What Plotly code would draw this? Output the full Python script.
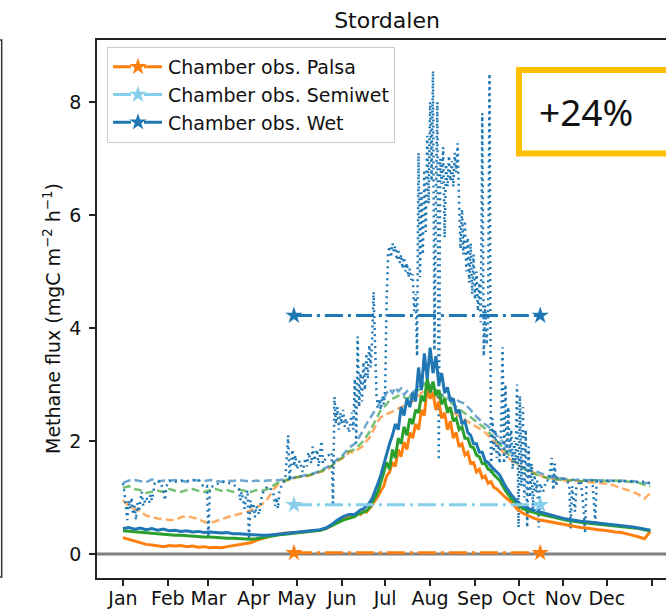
import plotly.graph_objects as go

# ---- time axis (day of year) ----
DAYS = list(range(0, 160, 4)) + list(range(160, 260, 2)) + list(range(260, 365, 4))

MONTH_TICKS = [0, 31, 59, 90, 120, 151, 181, 212, 243, 273, 304, 334, 365]
MONTH_LABELS = ["Jan", "Feb", "Mar", "Apr", "May", "Jun", "Jul", "Aug", "Sep",
                "Oct", "Nov", "Dec", ""]

# ---- modelled fluxes, solid lines ----
PALSA_SOLID = [0.29, 0.26, 0.24, 0.21, 0.17, 0.16, 0.14, 0.13, 0.15, 0.14,
               0.15, 0.13, 0.14, 0.12, 0.13, 0.11, 0.12, 0.11, 0.13, 0.15,
               0.16, 0.18, 0.2, 0.24, 0.27, 0.31, 0.33, 0.35, 0.37, 0.37,
               0.38, 0.39, 0.4, 0.41, 0.42, 0.45, 0.5, 0.57, 0.62, 0.65,
               0.68, 0.72, 0.70, 0.76, 0.74, 0.80, 0.86, 0.95, 1.02, 1.12,
               1.2, 1.38, 1.45, 1.62, 1.55, 1.85, 1.72, 1.98, 1.85, 2.15,
               2.05, 2.3, 2.2, 2.55, 2.45, 2.95, 2.75, 2.85, 2.55, 2.7,
               2.4, 2.5, 2.2, 2.35, 2.05, 2.15, 1.9, 1.95, 1.75, 1.8,
               1.6, 1.62, 1.45, 1.5, 1.35, 1.38, 1.25, 1.28, 1.18, 1.15,
               1.1, 1.0, 0.92, 0.8, 0.72, 0.67, 0.63, 0.6, 0.58, 0.57,
               0.54, 0.52, 0.5, 0.49, 0.47, 0.46, 0.44, 0.43, 0.42, 0.4,
               0.39, 0.38, 0.36, 0.33, 0.3, 0.27, 0.4]
SEMIWET_SOLID = [0.41, 0.4, 0.39, 0.38, 0.37, 0.36, 0.35, 0.34, 0.34, 0.33,
                 0.33, 0.32, 0.31, 0.31, 0.3, 0.3, 0.29, 0.29, 0.28, 0.28,
                 0.27, 0.27, 0.26, 0.27, 0.29, 0.31, 0.33, 0.34, 0.35, 0.36,
                 0.37, 0.38, 0.39, 0.4, 0.42, 0.45, 0.5, 0.56, 0.6, 0.63,
                 0.66, 0.7, 0.72, 0.75, 0.76, 0.82, 0.9, 1.0, 1.1, 1.28,
                 1.45, 1.62, 1.5, 1.85, 1.7, 2.05, 1.95, 2.25, 2.1, 2.4,
                 2.3, 2.55, 2.5, 2.8, 2.7, 3.1, 2.85, 3.05, 2.8, 2.9,
                 2.65, 2.75, 2.5, 2.6, 2.35, 2.4, 2.2, 2.25, 2.05, 2.05,
                 1.9, 1.88, 1.75, 1.72, 1.6, 1.6, 1.5, 1.48, 1.4, 1.35,
                 1.3, 1.12, 0.98, 0.88, 0.8, 0.76, 0.73, 0.7, 0.68, 0.66,
                 0.63, 0.61, 0.59, 0.57, 0.56, 0.55, 0.54, 0.53, 0.52, 0.51,
                 0.5, 0.49, 0.48, 0.47, 0.45, 0.43, 0.41]
WET_SOLID = [0.45, 0.47, 0.44, 0.46, 0.43, 0.45, 0.42, 0.44, 0.41, 0.42,
             0.4, 0.41, 0.39, 0.4, 0.38, 0.39, 0.38, 0.37, 0.38, 0.36,
             0.36, 0.35, 0.34, 0.33, 0.33, 0.33, 0.34, 0.35, 0.36, 0.37,
             0.38, 0.39, 0.4, 0.42, 0.43, 0.46, 0.52, 0.6, 0.66, 0.7,
             0.7, 0.74, 0.78, 0.8, 0.85, 0.9, 0.98, 1.1, 1.25, 1.4,
             1.6, 1.75, 1.95, 2.1, 2.3, 2.2, 2.6, 2.45, 2.75, 2.6,
             2.85, 2.7, 3.3, 2.9, 3.55, 3.1, 3.65, 3.2, 3.5, 3.0,
             3.2, 2.85, 2.95, 2.7, 2.75, 2.5, 2.55, 2.3, 2.35, 2.15,
             2.1, 1.95, 1.95, 1.8, 1.8, 1.65, 1.62, 1.55, 1.5, 1.45,
             1.4, 1.2, 1.05, 0.93, 0.85, 0.8, 0.77, 0.74, 0.71, 0.69,
             0.66, 0.63, 0.61, 0.59, 0.58, 0.57, 0.56, 0.55, 0.54, 0.53,
             0.52, 0.5, 0.49, 0.48, 0.46, 0.44, 0.42]

# ---- modelled fluxes, dashed lines ----
PALSA_DASHED = [0.95, 0.85, 0.8, 0.75, 0.68, 0.65, 0.63, 0.62, 0.6, 0.6,
                0.65, 0.67, 0.64, 0.62, 0.57, 0.55, 0.58, 0.62, 0.65, 0.68,
                0.7, 0.73, 0.77, 0.82, 0.88, 0.98, 1.15, 1.25, 1.3, 1.32,
                1.36, 1.37, 1.38, 1.42, 1.45, 1.48, 1.55, 1.65, 1.7, 1.8,
                1.8, 1.85, 1.88, 1.92, 2.0, 2.05, 2.15, 2.25, 2.35, 2.42,
                2.45, 2.48, 2.5, 2.52, 2.55, 2.58, 2.6, 2.62, 2.65, 2.67,
                2.7, 2.75, 2.8, 2.85, 2.9, 2.92, 2.9, 2.85, 2.8, 2.75,
                2.7, 2.65, 2.6, 2.55, 2.5, 2.47, 2.44, 2.4, 2.37, 2.35,
                2.32, 2.28, 2.25, 2.22, 2.18, 2.15, 2.1, 2.05, 2.0, 1.95,
                1.88, 1.75, 1.66, 1.58, 1.53, 1.48, 1.43, 1.39, 1.35, 1.33,
                1.31, 1.3, 1.3, 1.29, 1.28, 1.28, 1.27, 1.26, 1.25, 1.24,
                1.2, 1.17, 1.14, 1.1, 1.05, 0.98, 1.08]
SEMIWET_DASHED = [1.17, 1.2, 1.15, 1.13, 1.08, 1.1, 1.12, 1.1, 1.15, 1.12,
                  1.1, 1.13, 1.15, 1.12, 1.1, 1.13, 1.15, 1.12, 1.13, 1.1,
                  1.14, 1.12, 1.1, 1.13, 1.12, 1.15, 1.22, 1.28, 1.3, 1.33,
                  1.36, 1.37, 1.39, 1.42, 1.46, 1.5, 1.56, 1.65, 1.72, 1.82,
                  1.85, 1.9, 1.95, 2.0, 2.08, 2.15, 2.25, 2.35, 2.45, 2.55,
                  2.6, 2.65, 2.72, 2.75, 2.78, 2.8, 2.8, 2.78, 2.75, 2.78,
                  2.82, 2.85, 2.9, 2.95, 3.0, 3.02, 3.0, 2.95, 2.9, 2.85,
                  2.8, 2.76, 2.72, 2.68, 2.64, 2.6, 2.56, 2.52, 2.48, 2.45,
                  2.42, 2.38, 2.35, 2.3, 2.26, 2.22, 2.17, 2.12, 2.06, 2.0,
                  1.95, 1.82, 1.7, 1.6, 1.52, 1.46, 1.42, 1.38, 1.35, 1.33,
                  1.32, 1.31, 1.3, 1.31, 1.29, 1.3, 1.31, 1.29, 1.3, 1.28,
                  1.3, 1.29, 1.28, 1.27, 1.26, 1.22, 1.2]
WET_DASHED = [1.26, 1.3, 1.31, 1.29, 1.27, 1.32, 1.28, 1.3, 1.29, 1.31,
              1.3, 1.28, 1.31, 1.3, 1.29, 1.31, 1.3, 1.28, 1.3, 1.29,
              1.31, 1.3, 1.28, 1.3, 1.29, 1.3, 1.3, 1.31, 1.32, 1.34,
              1.36, 1.38, 1.4, 1.43, 1.47, 1.52, 1.58, 1.68, 1.76, 1.88,
              1.95, 2.02, 2.1, 2.2, 2.3, 2.38, 2.45, 2.55, 2.62, 2.7,
              2.75, 2.85, 2.92, 2.85, 2.95, 2.88, 2.93, 2.82, 2.88, 2.8,
              2.86, 2.9, 2.95, 3.0, 3.05, 3.0, 2.98, 2.92, 2.88, 2.85,
              2.82, 2.8, 2.78, 2.78, 2.72, 2.74, 2.7, 2.68, 2.66, 2.6,
              2.55, 2.48, 2.42, 2.38, 2.33, 2.3, 2.26, 2.22, 2.15, 2.1,
              2.05, 1.92, 1.8, 1.7, 1.62, 1.56, 1.48, 1.43, 1.39, 1.36,
              1.35, 1.34, 1.32, 1.31, 1.33, 1.3, 1.32, 1.3, 1.31, 1.3,
              1.29, 1.3, 1.28, 1.29, 1.27, 1.26, 1.25]

# ---- daily wet-site series (dotted), (day, flux) ----
WET_DAILY = [
    (0, 1.25), (1, 1.1), (2, 0.85), (3, 0.6), (4, 0.95), (5, 0.8), (6, 1.0),
    (7, 0.7), (8, 0.85), (9, 0.6), (10, 0.9), (11, 0.75), (12, 0.95), (13, 1.1),
    (14, 0.85), (16, 1.0), (18, 0.9), (19, 1.05), (20, 0.95), (22, 1.25),
    (24, 1.3), (26, 1.28), (28, 1.1), (29, 0.95), (30, 1.2), (32, 1.3),
    (36, 1.28), (40, 1.3), (44, 1.29), (48, 1.3), (52, 1.32), (54, 1.25),
    (56, 1.18), (58, 1.2), (59, 0.3), (60, 1.15), (62, 1.2), (66, 1.25),
    (70, 1.28), (74, 1.25), (78, 1.2), (80, 1.15), (81, 0.95), (82, 1.1),
    (84, 0.8), (85, 1.05), (86, 1.13), (87, 0.25), (88, 0.95), (89, 0.75),
    (90, 0.9), (91, 0.65), (92, 0.85), (94, 0.7), (96, 1.05), (98, 1.15),
    (100, 1.2), (102, 1.15), (104, 1.05), (105, 0.85), (106, 1.0), (107, 0.8),
    (108, 1.1), (110, 1.25), (112, 1.3), (114, 2.1), (115, 1.3), (116, 1.6),
    (117, 1.85), (118, 1.55), (119, 1.75), (120, 1.5), (122, 1.65), (124, 1.45),
    (126, 1.7), (127, 1.55), (128, 1.8), (130, 1.6), (131, 1.9), (132, 1.65),
    (134, 1.85), (135, 1.55), (137, 2.0), (138, 1.6), (140, 1.7), (142, 1.75),
    (144, 1.8), (145, 0.85), (146, 2.78), (147, 2.3), (148, 2.6), (149, 2.2),
    (150, 2.5), (151, 2.3), (152, 2.55), (153, 2.25), (154, 2.4), (156, 2.15),
    (158, 2.5), (159, 2.2), (160, 3.1), (161, 1.96), (162, 3.85), (163, 2.6),
    (164, 3.2), (165, 2.7), (166, 3.4), (167, 2.9), (168, 3.55), (169, 3.1),
    (170, 3.7), (171, 3.3), (172, 3.8), (173, 4.64), (174, 3.6), (175, 2.8),
    (176, 2.6), (177, 2.75), (178, 2.55), (179, 2.8), (180, 2.65), (181, 2.9),
    (182, 4.5), (183, 5.3), (184, 5.45), (185, 5.25), (186, 5.5), (187, 5.35),
    (188, 5.45), (189, 5.2), (190, 5.4), (191, 5.15), (192, 5.3), (193, 5.05),
    (194, 5.25), (195, 5.0), (196, 5.15), (197, 4.9), (198, 5.05), (199, 4.85),
    (200, 4.95), (201, 4.3), (202, 4.6), (203, 3.5), (204, 7.1), (205, 4.9),
    (206, 6.4), (207, 5.3), (208, 6.8), (209, 5.7), (210, 7.4), (211, 6.2),
    (212, 8.0), (213, 6.6), (214, 8.55), (215, 3.6), (216, 6.3), (217, 8.0),
    (218, 1.66), (219, 7.0), (220, 6.55), (221, 7.2), (222, 5.6), (223, 6.9),
    (224, 6.5), (225, 7.05), (226, 6.6), (227, 6.95), (228, 6.5), (229, 7.1),
    (230, 6.75), (231, 7.27), (232, 6.2), (233, 5.4), (234, 6.1), (235, 5.3),
    (236, 5.9), (237, 5.0), (238, 5.6), (239, 4.8), (240, 5.5), (241, 4.6),
    (242, 5.3), (243, 4.5), (244, 5.0), (245, 4.3), (246, 4.8), (247, 4.1),
    (248, 7.8), (249, 3.5), (250, 4.4), (251, 3.7), (252, 4.2), (253, 8.5),
    (254, 1.4), (255, 2.4), (256, 1.8), (257, 2.2), (258, 1.7), (259, 2.0),
    (260, 1.6), (261, 2.3), (262, 3.66), (263, 1.6), (264, 3.0), (265, 1.7),
    (266, 2.6), (267, 1.8), (268, 2.2), (269, 1.5), (270, 2.0), (271, 1.6),
    (272, 3.0), (273, 0.47), (274, 2.8), (275, 1.2), (276, 2.6), (277, 1.0),
    (278, 2.2), (279, 0.47), (280, 1.9), (281, 1.0), (282, 1.6), (283, 0.8),
    (284, 1.4), (285, 1.1), (286, 1.3), (287, 0.47), (288, 1.25), (290, 1.1),
    (292, 1.3), (294, 1.3), (296, 1.7), (297, 1.13), (298, 1.6), (299, 1.2),
    (300, 1.35), (304, 1.33), (308, 1.25), (309, 0.45), (310, 1.2), (312, 0.75),
    (313, 1.2), (316, 1.3), (318, 0.78), (319, 0.37), (320, 1.3), (324, 1.3),
    (326, 0.55), (327, 1.3), (330, 1.28), (336, 1.3), (342, 1.28), (348, 1.3),
    (354, 1.27), (360, 1.28), (364, 1.25),
]

# ---- chamber observations (season mean, start/end day) ----
CHAMBER_DAYS = [118, 288]
CHAMBER_NAMES = ["Chamber obs. Palsa", "Chamber obs. Semiwet", "Chamber obs. Wet"]
CHAMBER_MEANS = [0.02, 0.87, 4.22]
CHAMBER_COLORS = ["#ff7f0e", "#87ceeb", "#1f77b4"]

CHANGE_TEXT = "+24%"

C0, C1, C2 = "#1f77b4", "#ff7f0e", "#2ca02c"
FONT = "DejaVu Sans"

fig = go.Figure()

# dashed model lines
for vals, col in [(PALSA_DASHED, "rgba(255,127,14,0.65)"),
                  (SEMIWET_DASHED, "rgba(44,160,44,0.65)"),
                  (WET_DASHED, "rgba(31,119,180,0.65)")]:
    fig.add_trace(go.Scatter(x=DAYS, y=vals, mode="lines", showlegend=False,
                             line=dict(color=col, width=2.5, dash="8px,4px"),
                             hoverinfo="skip"))

# daily wet-site series
fig.add_trace(go.Scatter(x=[d for d, _ in WET_DAILY], y=[v for _, v in WET_DAILY],
                         mode="lines", showlegend=False,
                         line=dict(color=C0, width=2.5, dash="2px,4px"),
                         hoverinfo="skip"))

# solid model lines
for vals, col in [(PALSA_SOLID, C1), (SEMIWET_SOLID, C2), (WET_SOLID, C0)]:
    fig.add_trace(go.Scatter(x=DAYS, y=vals, mode="lines", showlegend=False,
                             line=dict(color=col, width=3), hoverinfo="skip"))

# chamber observation means
for name, mean, col in zip(CHAMBER_NAMES, CHAMBER_MEANS, CHAMBER_COLORS):
    fig.add_trace(go.Scatter(x=CHAMBER_DAYS, y=[mean, mean], mode="lines+markers",
                             name=name,
                             line=dict(color=col, width=3, dash="18px,5px,3px,5px"),
                             marker=dict(symbol="star", size=13, color=col)))

XR = [-17.9, 374.8]
YR = [-0.425, 9.097]

fig.update_layout(
    width=666, height=612,
    margin=dict(l=97, r=0, t=40, b=34),
    paper_bgcolor="white", plot_bgcolor="white",
    font=dict(family=FONT, size=19, color="#111"),
    title=dict(text="Stordalen", x=387 / 666, xanchor="center", xref="container",
               y=1 - 20 / 612, yanchor="middle", yref="container",
               font=dict(family=FONT, size=22, color="#111")),
    xaxis=dict(range=XR, tickvals=MONTH_TICKS, ticktext=MONTH_LABELS,
               showgrid=False, zeroline=False, showline=True, linecolor="#222",
               linewidth=1.5, mirror=True, ticks="outside", ticklen=6,
               tickwidth=1.5, tickcolor="#222", ticklabelstandoff=-4,
               tickfont=dict(family=FONT, size=19, color="#111")),
    yaxis=dict(range=YR, tickvals=[0, 2, 4, 6, 8], showgrid=False, zeroline=False,
               showline=True, linecolor="#222", linewidth=1.5, ticks="outside",
               ticklen=6, tickwidth=1.5, tickcolor="#222", ticklabelstandoff=4,
               tickfont=dict(family=FONT, size=19, color="#111")),
    legend=dict(x=10 / 569, y=1 - 7 / 538, xanchor="left", yanchor="top",
                bgcolor="rgba(255,255,255,0.85)", bordercolor="#cccccc",
                borderwidth=1, font=dict(family=FONT, size=19, color="#111"),
                tracegroupgap=0, itemwidth=50),
    showlegend=True,
)

# zero reference line
fig.add_shape(type="line", xref="paper", yref="y", x0=0, x1=1, y0=0, y1=0,
              line=dict(color="#808080", width=3), layer="below")

# edge of the neighbouring panel
fig.add_shape(type="path", xref="paper", yref="paper",
              path="M -0.171,1 L -0.1675,1 L -0.1675,0.002 L -0.171,0.002",
              line=dict(color="#333", width=1.5))

# percentage-change box
fig.add_shape(type="rect", xref="paper", yref="paper",
              x0=(519 - 97) / 569, x1=(690 - 97) / 569,
              y0=(578 - 153.5) / 538, y1=(578 - 70) / 538,
              line=dict(color="#FFC000", width=6), fillcolor="white", layer="above")
fig.add_annotation(text=CHANGE_TEXT, xref="paper", yref="paper",
                   x=(586 - 97) / 569, y=(578 - 111) / 538, showarrow=False,
                   xanchor="center", yanchor="middle",
                   font=dict(family="Noto Sans", size=37, color="#111"))

# y-axis title
fig.add_annotation(text="Methane flux (mgC m<sup>\u22122</sup> h<sup>\u22121</sup>)",
                   xref="paper", yref="paper", x=(52 - 97) / 569,
                   y=(578 - 319) / 538, textangle=-90, showarrow=False,
                   xanchor="center", yanchor="middle",
                   font=dict(family=FONT, size=19, color="#111"))

fig.write_html("out.html")
